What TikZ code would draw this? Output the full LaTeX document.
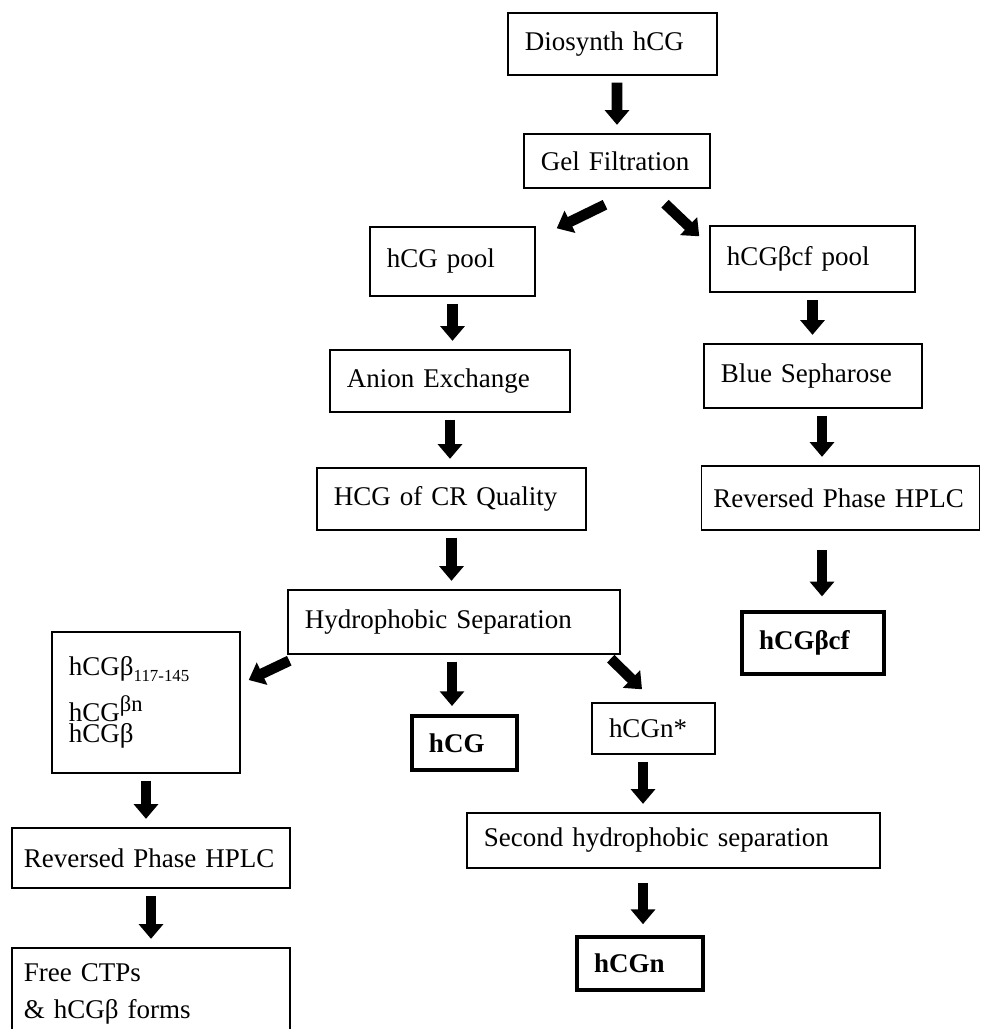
\documentclass[tikz,border=0pt]{standalone}
\usepackage{fontspec}
\setmainfont{Liberation Serif}
\usetikzlibrary{arrows.meta}

\begin{document}
\begin{tikzpicture}[
    x=0.025cm, y=-0.025cm,
    font=\fontsize{19.2}{23}\selectfont,
    box/.style={draw, line width=1pt, inner xsep=0.425cm, inner ysep=0pt, text width=#1, align=left},
    res/.style={box=#1, line width=2.2pt, font=\fontsize{19.2}{23}\selectfont\bfseries},
    arr/.style={-{Triangle[width=17pt,length=10.5pt]}, line width=7.5pt, shorten <=5pt, shorten >=6pt},
    dg/.style={arr, shorten <=0pt, shorten >=0pt},
]
\useasboundingbox (0,0) rectangle (982,1029);

\node[box=4.375cm, minimum height=1.55cm]  (dio)    at (612.5,44)  {Diosynth hCG};
\node[box=3.8cm,   minimum height=1.35cm]  (gel)    at (617,161)   {Gel Filtration};
\node[box=3.275cm, minimum height=1.725cm] (pool)   at (452.5,261.5) {hCG pool};
\node[box=4.275cm, minimum height=1.65cm]  (cfpool) at (812.5,259) {hCGβcf pool};
\node[box=5.15cm,  minimum height=1.55cm]  (anion)  at (450,381)   {Anion Exchange};
\node[box=4.6cm,   minimum height=1.6cm]   (blue)   at (813,376)   {Blue Sepharose};
\node[box=5.875cm, minimum height=1.55cm]  (crq)    at (451.5,499) {HCG of CR Quality};
\node[box=6.35cm, inner xsep=0.3cm, minimum height=1.6cm] (rpr) at (840.5,498) {Reversed Phase HPLC};
\node[box=7.45cm,  minimum height=1.6cm]   (hydro)  at (454,622)   {Hydrophobic Separation};
\node[res=2.7cm,   minimum height=1.55cm]  (cf)     at (813,643)   {hCGβcf};
\node[box=3.85cm,  minimum height=3.525cm] (beta)   at (146,702.5)
    {hCGβ\raisebox{-4pt}{\fontsize{12}{13}\selectfont 117-145}\\[10pt]
     hCG\raisebox{7pt}{\fontsize{16}{18}\selectfont βn}\\[-8pt]
     hCGβ};
\node[res=1.775cm, minimum height=1.35cm]  (hcg)    at (464.5,743) {hCG};
\node[box=2.225cm, minimum height=1.275cm] (nstar)  at (653.5,728.5) {hCGn*};
\node[box=9.475cm, minimum height=1.375cm] (second) at (673.5,840.5) {Second hydrophobic separation};
\node[res=2.3cm,   minimum height=1.325cm] (hcgn)   at (640,963.5) {hCGn};
\node[box=6.35cm, inner xsep=0.3cm, minimum height=1.5cm] (rpl) at (151,858) {Reversed Phase HPLC};
\node[box=6.35cm, inner xsep=0.3cm, minimum height=2.3cm] (free) at (151,994) {Free CTPs\\[3pt] \& hCGβ forms};

\draw[arr] ([shift={(4.5,0)}]dio.south) -- (gel.north);
\draw[dg] ([shift={(-12,16)}]gel.south) -- ([shift={(21,2)}]pool.north east);
\draw[dg] ([shift={(48,15)}]gel.south) -- ([shift={(-10,11)}]cfpool.north west);
\draw[arr] (pool.south) -- (pool.south |- anion.north);
\draw[arr] (anion.south) -- (anion.south |- crq.north);
\draw[arr] (crq.south) -- (crq.south |- hydro.north);
\draw[arr] (cfpool.south) -- (cfpool.south |- blue.north);
\draw[arr] ([shift={(9,0)}]blue.south) -- ([shift={(-18.5,0)}]rpr.north);
\draw[arr, shorten <=14pt, shorten >=10pt] ([shift={(-18.5,0)}]rpr.south) -- ([shift={(9,0)}]cf.north);
\draw[dg] ([shift={(2,6)}]hydro.south west) -- ([shift={(8,-22.5)}]beta.east);
\draw[arr] ([shift={(-2,0)}]hydro.south) -- ([shift={(-12.5,0)}]hcg.north);
\draw[dg] ([shift={(-10,4)}]hydro.south east) -- ([shift={(-11.5,-13)}]nstar.north);
\draw[arr] ([shift={(-10.5,0)}]nstar.south) -- ([shift={(-30.5,0)}]second.north);
\draw[arr, shorten <=10pt, shorten >=8pt] ([shift={(-30.5,0)}]second.south) -- ([shift={(3,0)}]hcgn.north);
\draw[arr] (beta.south) -- ([shift={(-5,0)}]rpl.north);
\draw[arr] (rpl.south) -- (free.north);
\end{tikzpicture}
\end{document}
